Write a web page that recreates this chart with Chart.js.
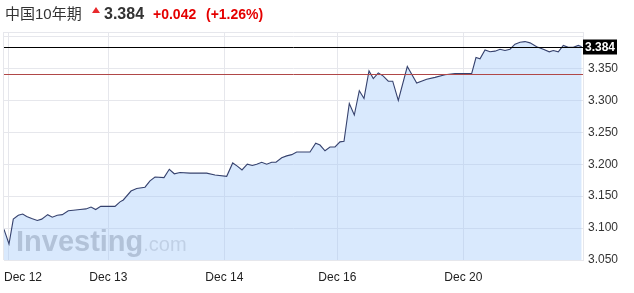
<!DOCTYPE html>
<html>
<head>
<meta charset="utf-8">
<script src="https://cdn.jsdelivr.net/npm/chart.js@4/dist/chart.umd.min.js"></script>
<style>
  html, body { margin: 0; padding: 0; background: #fff; }
  #wrap { position: relative; width: 634px; height: 293px; overflow: hidden; }
  #chart { position: absolute; left: 0; top: 0; }
  #hdr { position: absolute; left: 0; top: 0; width: 634px; height: 28px;
         font-family: 'Liberation Sans', Arial, 'Noto Sans CJK SC', sans-serif; white-space: nowrap; }
  #hdr span { position: absolute; line-height: 1; }
  #name { left: 5px; top: 6px; font-size: 15px; color: #333; }
  #arrow { left: 92px; top: 7px; width: 0; height: 0;
           border-left: 4px solid transparent; border-right: 4px solid transparent;
           border-bottom: 6px solid #e8292c; }
  #last { left: 104px; top: 6px; font-size: 16px; font-weight: bold; color: #333; }
  #chg { left: 153px; top: 7px; font-size: 14px; font-weight: bold; color: #e50000; }
  #pct { left: 206px; top: 7px; font-size: 14px; font-weight: bold; color: #e50000; }
</style>
</head>
<body>
<div id="wrap">
  <canvas id="chart" width="634" height="293"></canvas>
  <div id="hdr">
    <span id="name">中国10年期</span>
    <span id="arrow"></span>
    <span id="last"></span>
    <span id="chg"></span>
    <span id="pct"></span>
  </div>
</div>
<script>
// instrument
const instrumentName = '中国10年期';
const lastValue = 3.384;
const prevClose = 3.342;

// time position of each quote (session units along the x axis)
const times = [
    0, 5, 9.3, 14.3, 18.7, 22.7, 27.7, 33.3, 37.7, 43.7,
    48.3, 53.3, 58.3, 64.3, 69.3, 76, 82, 87, 91.7, 96.7,
    111, 116, 119.3, 127, 132.7, 141, 146, 151, 160, 165.3,
    170.3, 176, 186, 202.7, 211, 222.7, 228.7, 233.3, 238, 243.3,
    248.3, 252.7, 257.7, 262.7, 267.7, 272, 277.7, 282.7, 287.7, 292.7,
    306, 311.7, 316, 321, 326, 331, 336, 340, 345.3, 350.3,
    355.3, 360, 365, 369.3, 374.3, 379.3, 384.3, 388.7, 394.3, 403.3,
    412.7, 422.7, 431, 441, 451, 459.3, 467.7, 472, 476, 481,
    486, 491, 496, 501, 506, 511, 516, 521, 526, 532.7,
    539.3, 545.3, 549.3, 554.3, 559.3, 564.3, 569.3, 574.3, 577.7
];

// yield values
const yields = [
    3.098, 3.075, 3.114, 3.120, 3.122, 3.118, 3.115, 3.112, 3.114, 3.121,
    3.117, 3.120, 3.121, 3.127, 3.128, 3.129, 3.130, 3.133, 3.129, 3.134,
    3.134, 3.141, 3.144, 3.158, 3.162, 3.164, 3.174, 3.180, 3.179, 3.192,
    3.185, 3.187, 3.186, 3.186, 3.183, 3.181, 3.202, 3.197, 3.191, 3.200,
    3.198, 3.200, 3.203, 3.200, 3.203, 3.203, 3.210, 3.213, 3.215, 3.219,
    3.219, 3.233, 3.230, 3.221, 3.227, 3.227, 3.235, 3.236, 3.295, 3.277,
    3.315, 3.303, 3.346, 3.334, 3.343, 3.338, 3.330, 3.330, 3.300, 3.353,
    3.327, 3.333, 3.336, 3.340, 3.342, 3.342, 3.342, 3.367, 3.365, 3.379,
    3.376, 3.377, 3.380, 3.378, 3.380, 3.388, 3.391, 3.392, 3.390, 3.384,
    3.380, 3.376, 3.378, 3.376, 3.386, 3.383, 3.383, 3.386, 3.384
];

// x axis date ticks
const dateTickTimes = [4.3, 104.3, 220.3, 333.3, 459.3];
const dateTickLabels = ['Dec 12', 'Dec 13', 'Dec 14', 'Dec 16', 'Dec 20'];

// y axis ticks
const yTicks = [3.05, 3.10, 3.15, 3.20, 3.25, 3.30, 3.35, 3.40];
const yHiddenLabels = [3.40];

// header text
const change = lastValue - prevClose;
document.getElementById('name').textContent = instrumentName;
document.getElementById('last').textContent = lastValue.toFixed(3);
document.getElementById('chg').textContent = (change >= 0 ? '+' : '') + change.toFixed(3);
document.getElementById('pct').textContent = '(' + (change >= 0 ? '+' : '') + (change / prevClose * 100).toFixed(2) + '%)';

const FONT = "'Liberation Sans', Arial, sans-serif";
const GRID = '#e6e7ec';

const overlayPlugin = {
    id: 'overlay',
    afterDatasetsDraw(chart) {
        const ctx = chart.ctx;
        const area = chart.chartArea;
        const x = chart.scales.x;
        const y = chart.scales.y;

        ctx.save();
        // watermark
        ctx.textBaseline = 'alphabetic';
        ctx.textAlign = 'left';
        ctx.font = 'bold 29px ' + FONT;
        ctx.fillStyle = 'rgba(140,155,180,0.5)';
        ctx.fillText('Investing', 16, 251);
        const w = ctx.measureText('Investing').width;
        ctx.font = '20px ' + FONT;
        ctx.fillStyle = 'rgba(140,155,180,0.32)';
        ctx.fillText('.com', 16 + w, 251);

        // previous close line
        const yPrev = Math.round(y.getPixelForValue(prevClose)) + 0.5;
        ctx.strokeStyle = '#b04848';
        ctx.lineWidth = 1;
        ctx.beginPath();
        ctx.moveTo(area.left, yPrev);
        ctx.lineTo(area.right, yPrev);
        ctx.stroke();

        // last value line
        const yLast = Math.round(y.getPixelForValue(lastValue)) + 0.5;
        ctx.strokeStyle = '#000';
        ctx.beginPath();
        ctx.moveTo(area.left, yLast);
        ctx.lineTo(area.right, yLast);
        ctx.stroke();

        // frame left and top
        ctx.strokeStyle = GRID;
        ctx.beginPath();
        ctx.moveTo(area.left - 0.5, area.top + 0.5);
        ctx.lineTo(area.right, area.top + 0.5);
        ctx.moveTo(area.left - 0.5, area.top);
        ctx.lineTo(area.left - 0.5, area.bottom);
        ctx.stroke();

        // last value label box
        ctx.fillStyle = '#000';
        ctx.fillRect(area.right, yLast - 8, 34, 15);
        ctx.fillStyle = '#fff';
        ctx.font = 'bold 12px ' + FONT;
        ctx.textBaseline = 'middle';
        ctx.fillText(lastValue.toFixed(3), area.right + 2, yLast);

        // date labels
        ctx.fillStyle = '#222';
        ctx.font = '12px ' + FONT;
        ctx.textBaseline = 'middle';
        dateTickTimes.forEach((t, i) => {
            const lw = ctx.measureText(dateTickLabels[i]).width;
            let lx = x.getPixelForValue(t) - lw / 2;
            if (lx < area.left) lx = area.left;
            ctx.fillText(dateTickLabels[i], lx, 278);
        });
        ctx.restore();
    }
};

new Chart(document.getElementById('chart').getContext('2d'), {
    type: 'line',
    data: {
        datasets: [{
            data: times.map((t, i) => ({ x: t, y: yields[i] })),
            borderColor: '#36426e',
            borderWidth: 1.1,
            backgroundColor: 'rgba(160,200,250,0.4)',
            fill: 'start',
            pointRadius: 0,
            tension: 0
        }]
    },
    options: {
        responsive: false,
        animation: false,
        events: [],
        layout: { padding: { left: 4, top: 32, right: 0, bottom: 0 } },
        plugins: { legend: { display: false }, tooltip: { enabled: false } },
        scales: {
            x: {
                type: 'linear',
                min: 0,
                max: 579,
                afterBuildTicks: scale => { scale.ticks = dateTickTimes.map(v => ({ value: v })); },
                afterFit: scale => { scale.height = 33; },
                grid: { color: GRID, drawTicks: false },
                border: { color: GRID },
                ticks: { display: false }
            },
            y: {
                position: 'right',
                min: 3.05,
                max: 3.407,
                afterBuildTicks: scale => { scale.ticks = yTicks.map(v => ({ value: v })); },
                afterFit: scale => { scale.width = 51; },
                grid: { color: GRID, drawTicks: false },
                border: { color: GRID },
                ticks: {
                    padding: 5,
                    color: '#333',
                    font: { family: FONT, size: 12 },
                    callback: v => yHiddenLabels.some(h => Math.abs(h - v) < 1e-6) ? '' : v.toFixed(3)
                }
            }
        }
    },
    plugins: [overlayPlugin]
});
</script>
</body>
</html>
